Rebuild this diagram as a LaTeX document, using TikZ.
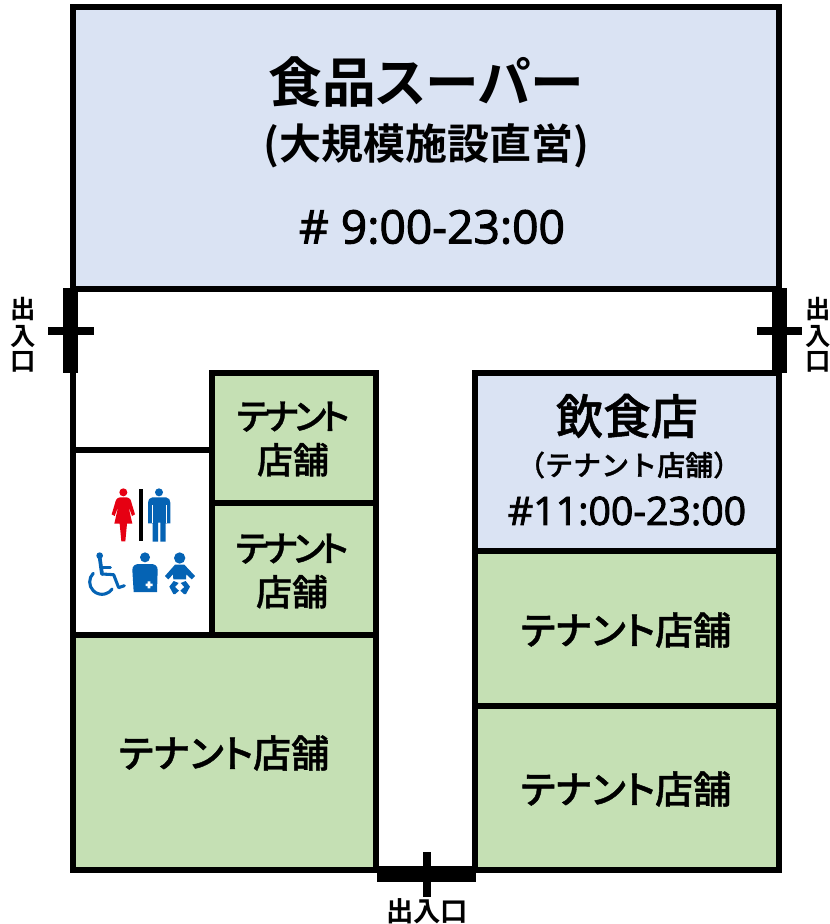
\documentclass[tikz,border=0pt]{standalone}
\usepackage{fontspec}
\setmainfont{Noto Sans CJK JP Medium}[FakeBold=1]
\newfontfamily\jpb{Noto Sans CJK JP Bold}[RawFeature=+palt]
\newfontfamily\jpm{Noto Sans CJK JP Medium}[RawFeature=+palt,FakeBold=1]
\newfontfamily\latinb{Open Sans}[FakeBold=2.2]
\definecolor{roomblue}{HTML}{DAE3F3}
\definecolor{roomgreen}{HTML}{C5E0B4}
\definecolor{iconblue}{HTML}{0563B4}
\definecolor{iconred}{HTML}{E60012}
\tikzset{
  room/.style={draw=black,line width=4.3pt,line join=miter},
  green room/.style={room,fill=roomgreen},
  blue room/.style={room,fill=roomblue},
  door/.style={fill=black,draw=none},
  label/.style={inner sep=0pt,align=center,text=black},
  wheel/.style={iconblue,line width=2.3pt,line cap=round,line join=round},
}
\newcommand{\fs}[1]{\fontsize{#1}{#1}\selectfont}
\newcommand{\tnarrow}{テ\kern-3.5ptナ\kern-3.5ptン\kern-3.5ptト}
\begin{document}
\begin{tikzpicture}[x=0.75pt,y=-0.75pt]
\useasboundingbox (0,0) rectangle (830,924);
% rooms
\draw[room,fill=white] (73,289) -- (73,870) -- (779,870) -- (779,289) -- cycle;
\draw[blue room] (73,7) rectangle (779,289);
\draw[room,fill=white] (73,450) rectangle (212,635);
\draw[green room] (212,373) rectangle (376,503);
\draw[green room] (212,503) rectangle (376,635);
\draw[green room] (73,635) rectangle (376,870);
\draw[blue room] (475,373) rectangle (779,551);
\draw[green room] (475,551) rectangle (779,706);
\draw[green room] (475,706) rectangle (779,870);
\fill[white] (379,867.5) rectangle (473,872.5);
% doors
\fill[door] (63,288) rectangle (78,373);
\fill[door] (48,327) rectangle (94,335);
\fill[door] (772,288) rectangle (787,373);
\fill[door] (757,327) rectangle (802,335);
\fill[door] (377,866) rectangle (476,882);
\fill[door] (423,852) rectangle (431,897);
% labels
\node[label] (super) at (426,82) {\fs{40.3}\jpb 食品スーパー};
\node[label] (direct) at (426.5,146) {\fs{31.5}\jpb (大規模施設直営)};
\node[label] (superhours) at (432,227) {\fs{34.6}\latinb \# 9:00-23:00};
\node[label] (t1) at (293,439) {\fs{27}\jpm\tnarrow\\[7.5pt]\fs{27}\jpm 店舗};
\node[label] (t2) at (292,571) {\fs{27}\jpm\tnarrow\\[7.5pt]\fs{27}\jpm 店舗};
\node[label] (t3) at (224,753) {\fs{28.6}\jpm テナント店舗};
\node[label] (rest) at (627,416) {\fs{35.5}\jpm 飲食店};
\node[label] (rests) at (626,465) {\fs{21} （テナント店舗）};
\node[label] (resth) at (627,511) {\fs{29.4}\latinb \#11:00-23:00};
\node[label] (t4) at (626,630) {\fs{28.6}\jpm テナント店舗};
\node[label] (t5) at (626,789) {\fs{28.6}\jpm テナント店舗};
\node[label] (dl) at (23,335) {\fs{19}\jpb 出\\[2pt]\fs{19}\jpb 入\\[2pt]\fs{19}\jpb 口};
\node[label] (dr) at (818,335) {\fs{19}\jpb 出\\[2pt]\fs{19}\jpb 入\\[2pt]\fs{19}\jpb 口};
\node[label] (db) at (427,911) {\fs{20.5}\jpb 出入口};
% icons
\begin{scope}[shift={(75,470)},x=0.25pt,y=-0.25pt]
  % woman
  \fill[iconred] (145,67) circle (12);
  \fill[iconred] (135,82) -- (155,82) .. controls (165,84) and (168,90) .. (170,100) -- (180,133) -- (171,138) -- (160,108)
    -- (172,161) -- (156,161) -- (151,214) -- (139,214) -- (134,161) -- (118,161) -- (130,108) -- (119,138) -- (110,133) -- (120,100)
    .. controls (122,90) and (125,84) .. (135,82) -- cycle;
  % divider
  \fill[black] (193,56) rectangle (205,214);
  % man
  \fill[iconblue] (252,67) circle (12);
  \fill[iconblue] (232,82) -- (273,82) .. controls (282,83) and (286,90) .. (286,98) -- (286,160) -- (272,160) -- (272,215) -- (256,215) -- (256,158) -- (249,158) -- (249,215) -- (233,215) -- (233,160) -- (219,160) -- (219,98) .. controls (219,90) and (223,83) .. (232,82) -- cycle;
  \draw[white,line width=0.6pt] (232,105) -- (232,160) (273,105) -- (273,160);
  % wheelchair
  \fill[iconblue] (74,257) circle (10);
  \draw[wheel,line width=2.8pt] (74,262) -- (81,312);
  \draw[wheel] (81,312) -- (116,314) -- (131,353) -- (148,347);
  \draw[wheel] (78,292) -- (106,292);
  \draw[wheel] (81,336) ++(225:37) arc[start angle=225,end angle=35,radius=37];
  % caregiver
  \fill[iconblue] (210,262) circle (15);
  \fill[iconblue] (172,300) .. controls (172,288) and (180,282) .. (192,282) -- (228,282) .. controls (240,282) and (248,288) .. (248,300) -- (246,366) -- (176,366) -- cycle;
  \fill[white] (218,334) rectangle (226,355) (212,341) rectangle (233,348);
  % baby
  \fill[iconblue] (314,264) circle (17);
  \fill[iconblue] (300,284) -- (328,284) -- (360,318) -- (350,328) -- (334,313) -- (333,328) -- (295,328) -- (294,313) -- (280,328) -- (270,318) -- cycle;
  \fill[iconblue] (283,350) -- (296,333) -- (311,339) -- (300,351) -- (312,362) -- (301,372) -- (295,372) -- cycle;
  \fill[iconblue] (345,350) -- (332,333) -- (317,339) -- (328,351) -- (316,362) -- (327,372) -- (333,372) -- cycle;
\end{scope}
\end{tikzpicture}
\end{document}
